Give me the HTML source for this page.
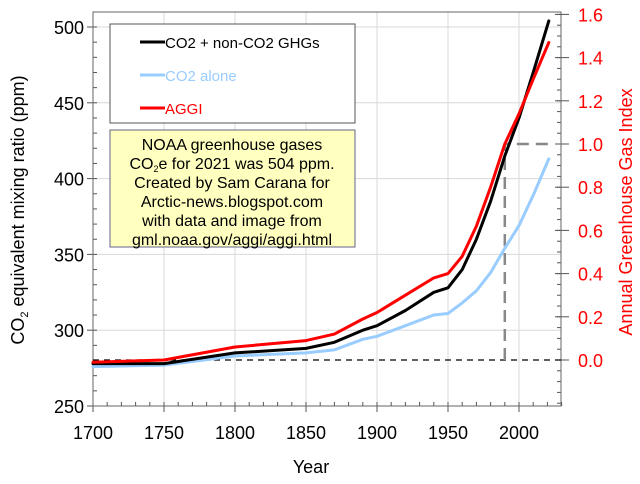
<!DOCTYPE html>
<html><head><meta charset="utf-8"><style>
body{margin:0;background:#fff}
svg{display:block;font-family:"Liberation Sans",Arial,sans-serif}
</style></head><body>
<svg id="chart" width="640" height="484" viewBox="0 0 640 484">
<g id="grid"></g>
<g id="axes"></g>
<g id="series"></g>
<g>
<rect x="110" y="24" width="245" height="99" fill="#fff" stroke="#555" stroke-width="1"/>
<line x1="140" y1="42" x2="165" y2="42" stroke="#000" stroke-width="3"/>
<text x="165" y="48" font-size="15" fill="#000">CO2 + non-CO2 GHGs</text>
<line x1="140" y1="75" x2="165" y2="75" stroke="#99ccff" stroke-width="3"/>
<text x="165" y="81" font-size="15" fill="#99ccff">CO2 alone</text>
<line x1="140" y1="108" x2="165" y2="108" stroke="#ff0000" stroke-width="3"/>
<text x="165" y="114" font-size="15" fill="#ff0000">AGGI</text>
</g>
<g>
<rect x="110" y="130" width="245" height="117" fill="#ffffc0" stroke="#666688" stroke-width="1"/>
<g font-size="16" text-anchor="middle" fill="#000">
<text x="232" y="150">NOAA greenhouse gases</text>
<text x="232" y="169">CO<tspan font-size="9" dy="3">2</tspan><tspan dy="-3">e for 2021 was 504 ppm.</tspan></text>
<text x="232" y="188">Created by Sam Carana for</text>
<text x="232" y="207">Arctic-news.blogspot.com</text>
<text x="232" y="226">with data and image from</text>
<text x="232" y="245">gml.noaa.gov/aggi/aggi.html</text>
</g></g>
<text transform="translate(24,210) rotate(-90)" text-anchor="middle" font-size="18">CO<tspan font-size="11" dy="4">2</tspan><tspan dy="-4"> equivalent mixing ratio (ppm)</tspan></text>
<text transform="translate(632,212) rotate(-90)" text-anchor="middle" font-size="18" fill="#ff0000">Annual Greenhouse Gas Index</text>
<text x="311" y="473" text-anchor="middle" font-size="18">Year</text>
</svg>
<script>
const years=[1700,1750,1800,1850,1870,1890,1900,1920,1940,1950,1960,1970,1980,1990,2000,2010,2021];
const totalPpm=[278,278,285,288,292,300,303,313,325,328,340,360,385,415,440,470,504];
const co2Ppm=[276,277,283,285,287,294,296,303,310,311,318,326,338,354,369,389,413];
const aggi=[-0.01,0.0,0.06,0.09,0.12,0.19,0.22,0.30,0.38,0.40,0.48,0.62,0.80,1.0,1.14,1.30,1.47];
const xTicks=[1700,1750,1800,1850,1900,1950,2000];
const yTicks=[250,300,350,400,450,500];
const y2Ticks=[0.0,0.2,0.4,0.6,0.8,1.0,1.2,1.4,1.6];
const refYear=1990, refIndex=1.0;
const NS="http://www.w3.org/2000/svg";
const L=93,R=561,T=12,B=406;
const x=v=>L+(v-1700)*(519-L)/300;
const y=v=>406-(v-250)*(406-27)/250;
const y2=v=>360-v*216;
function el(tag,attrs,parent,txt){const e=document.createElementNS(NS,tag);for(const k in attrs)e.setAttribute(k,attrs[k]);if(txt!=null)e.textContent=txt;parent.appendChild(e);return e;}
const grid=document.getElementById('grid'),axes=document.getElementById('axes'),series=document.getElementById('series');
xTicks.forEach(t=>{if(t>1700){const g=el('line',{x1:x(t),x2:x(t),y1:T,y2:B,stroke:'#d8d8d8'},grid);

}
const lb=el('text',{x:x(t),y:B+33,'text-anchor':'middle','font-size':18},axes,String(t));

});
yTicks.forEach(t=>{if(t>250){const g=el('line',{x1:L,x2:R,y1:y(t),y2:y(t),stroke:'#d8d8d8'},grid);

}
el('line',{x1:L-6,x2:L,y1:y(t),y2:y(t),stroke:'#555'},axes);
const lb=el('text',{x:L-9,y:y(t)+7,'text-anchor':'end','font-size':18},axes,String(t));

});
for(let v=250;v<=510;v+=10){if(y(v)>=T)el('line',{x1:L,x2:L+4,y1:y(v),y2:y(v),stroke:'#555'},axes);}
for(let v=1700;v<=2030;v+=10){el('line',{x1:x(v),x2:x(v),y1:B-4,y2:B,stroke:'#555'},axes);}
xTicks.forEach(t=>el('line',{x1:x(t),x2:x(t),y1:B,y2:B+6,stroke:'#555'},axes));
for(let v=-0.2;v<=1.6001;v+=0.05){const yy=y2(v);if(yy<=B&&yy>=T)el('line',{x1:R-4,x2:R,y1:yy,y2:yy,stroke:'#555'},axes);}
y2Ticks.forEach(t=>{el('line',{x1:R-6,x2:R+8,y1:y2(t),y2:y2(t),stroke:'#555'},axes);
const lb=el('text',{x:R+17,y:y2(t)+7,'font-size':18,fill:'#ff0000'},axes,t.toFixed(1));

});
el('rect',{x:L,y:T,width:R-L,height:B-T,fill:'none',stroke:'#666'},axes);
const zl=el('line',{x1:L,x2:R,y1:y2(0),y2:y2(0),stroke:'#000','stroke-dasharray':'6,5','stroke-width':1.3},series);


const ref=el('path',{d:`M${x(refYear)},${y2(0)}V${y2(refIndex)}H${R-12}`,fill:'none',stroke:'#888','stroke-width':2.5,'stroke-dasharray':'12,7'},series);


function line(vals,fy,color,name){const d=vals.map((v,i)=>(i?'L':'M')+x(years[i]).toFixed(1)+','+fy(v).toFixed(1)).join('');
const p=el('path',{d:d,fill:'none',stroke:color,'stroke-width':3,'stroke-linejoin':'round','stroke-linecap':'round'},series);

}
line(co2Ppm,y,'#99ccff','co2-alone-line');
line(totalPpm,y,'#000','total-ghg-line');
line(aggi,y2,'#ff0000','aggi-line');
</script>
</body></html>
